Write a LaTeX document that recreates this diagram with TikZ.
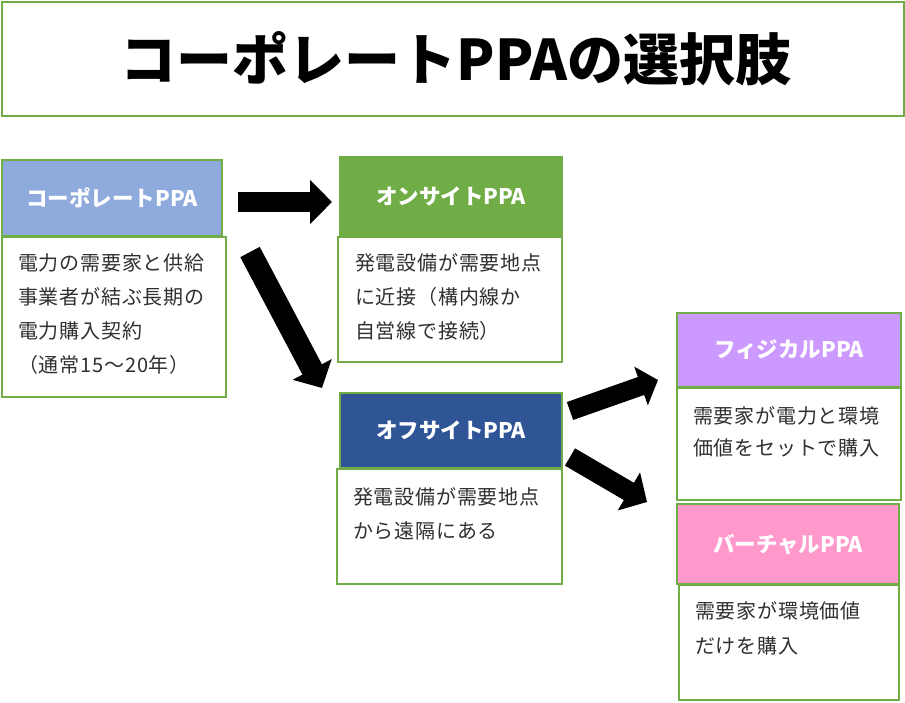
\documentclass[tikz,border=0pt]{standalone}
\usepackage{fontspec}
\setmainfont{Noto Sans CJK JP}
\newfontfamily\bodyfont[LetterSpace=4]{Noto Sans CJK JP}
\usetikzlibrary{arrows.meta}
\definecolor{grn}{HTML}{70AD47}
\definecolor{cpblue}{HTML}{8FAADC}
\definecolor{ofblue}{HTML}{2F5597}
\definecolor{phpurple}{HTML}{CC99FF}
\definecolor{vipink}{HTML}{FF99CC}
\definecolor{bodytxt}{HTML}{303030}
\tikzset{
  box/.style={draw=grn, line width=2pt, inner sep=0pt},
  hdr/.style={box, text=white, font=\bfseries\fontsize{21.5}{25}\selectfont},
  bodybox/.style={box, fill=white},
  bodytext/.style={anchor=base west, inner sep=0pt, align=left, text=bodytxt,
    font=\bodyfont\fontsize{20}{34}\selectfont},
  blockarrow/.style={draw=black, line width=#1}
}
\begin{document}
\begin{tikzpicture}[x=1pt,y=-1pt]
\useasboundingbox (0,0) rectangle (905,703);
\fill[white] (0,0) rectangle (905,703);
% title
\node[box, minimum width=902, minimum height=114] (title) at (453,59) {};
\node[inner sep=0pt, font=\bfseries\fontsize{56}{60}\selectfont] (titletext) at (456,59) {コーポレートPPAの選択肢};
% corporate PPA
\node[bodybox, minimum width=224, minimum height=160] (cpb) at (114,317) {};
\node[hdr, fill=cpblue, minimum width=220, minimum height=76] (cph) at (112,198) {コーポレートPPA};
\node[bodytext] (cpt) at (18,372) {電力の需要家と供給\\事業者が結ぶ長期の\\電力購入契約\\（通常15～20年）};
% onsite
\node[bodybox, minimum width=224, minimum height=125] (onb) at (450,299.5) {};
\node[hdr, fill=grn, minimum width=222, minimum height=79] (onh) at (451,196.5) {オンサイトPPA};
\node[bodytext] (ont) at (355,338) {発電設備が需要地点\\に近接（構内線か\\自営線で接続）};
% offsite
\node[bodybox, minimum width=225, minimum height=115] (ofb) at (449.5,526.5) {};
\node[hdr, fill=ofblue, minimum width=222, minimum height=75] (ofh) at (451,430.5) {オフサイトPPA};
\node[bodytext] (oft) at (353,538) {発電設備が需要地点\\から遠隔にある};
% physical
\node[bodybox, minimum width=224, minimum height=112] (phb) at (789,444) {};
\node[hdr, fill=phpurple, minimum width=224, minimum height=74] (phh) at (789,350) {フィジカルPPA};
\node[bodytext, font=\bodyfont\fontsize{20}{32.5}\selectfont] (pht) at (693,455.5) {需要家が電力と環境\\価値をセットで購入};
% virtual
\node[bodybox, minimum width=220, minimum height=115] (vib) at (789,642.5) {};
\node[hdr, fill=vipink, minimum width=222, minimum height=80] (vih) at (788,544) {バーチャルPPA};
\node[bodytext, font=\bodyfont\fontsize{20}{35}\selectfont] (vit) at (695,653) {需要家が環境価値\\だけを購入};
% arrows
\coordinate (a1s) at (238,202);
\coordinate (a1e) at (332,202);
\coordinate (a2s) at (250,252);
\coordinate (a2e) at (322,388);
\coordinate (a3s) at (570,411);
\coordinate (a3e) at (658,380);
\coordinate (a4s) at (570,457);
\coordinate (a4e) at (647,502);
\draw[blockarrow=20pt, -{Triangle[length=22pt,width=43pt]}] (a1s) -- (a1e);
\draw[blockarrow=22pt, -{Triangle[length=21pt,width=43pt]}] (a2s) -- (a2e);
\draw[blockarrow=19pt, -{Triangle[length=18pt,width=40pt]}] (a3s) -- (a3e);
\draw[blockarrow=20pt, -{Triangle[length=21pt,width=43pt]}] (a4s) -- (a4e);
\end{tikzpicture}
\end{document}
